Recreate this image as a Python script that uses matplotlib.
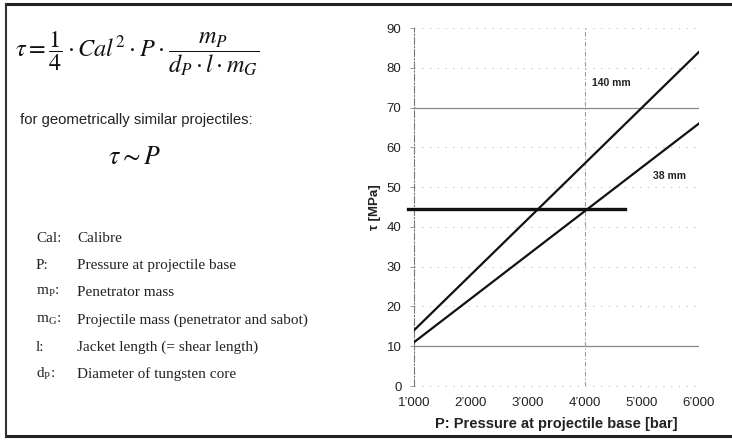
import matplotlib
matplotlib.use("Agg")
import matplotlib.pyplot as plt
import numpy as np

plt.rcParams['font.family'] = ['Liberation Sans', 'DejaVu Sans']
plt.rcParams['mathtext.fontset'] = 'stix'

# Data
pressure = [1000, 6000]
tau_140 = [14, 84]
tau_38 = [11, 66]
limit_x = [900, 4700]
limit_tau = [44.5, 44.5]
xticks = [1000, 2000, 3000, 4000, 5000, 6000]
xtick_labels = ["1’000", "2’000", "3’000", "4’000", "5’000", "6’000"]
yticks = [0, 10, 20, 30, 40, 50, 60, 70, 80, 90]
def_keys = ["Cal:", "P:", r"m$_\mathregular{P}$:", r"m$_\mathregular{G}$:", "l:", r"d$_\mathregular{P}$:"]
def_texts = ["Calibre", "Pressure at projectile base", "Penetrator mass",
             "Projectile mass (penetrator and sabot)", "Jacket length (= shear length)",
             "Diameter of tungsten core"]

W, H = 732, 440
fig = plt.figure(figsize=(W/100, H/100), dpi=100)

# outer frame
fig.add_artist(plt.Line2D([6/W, 1], [1-4/H, 1-4/H], color='#222222', lw=2.2, transform=fig.transFigure))
fig.add_artist(plt.Line2D([6/W, 1], [1-436/H, 1-436/H], color='#222222', lw=2.2, transform=fig.transFigure))
fig.add_artist(plt.Line2D([6/W, 6/W], [1-4/H, 1-436/H], color='#333333', lw=1.5, transform=fig.transFigure))

# left text
fig.text(15/W, 1-54/H,
         r"$\tau = \dfrac{1}{4}\cdot Cal^2\cdot P\cdot\dfrac{m_P}{d_P\cdot l\cdot m_G}$",
         fontsize=17.5, va='center', ha='left', color='#111111')
fig.text(20/W, 1-120/H, "for geometrically similar projectiles:", fontsize=10.7,
         family=['Liberation Sans', 'DejaVu Sans'], va='center', ha='left', color='#222222')
fig.text(108/W, 1-157/H, r"$\tau \sim P$", fontsize=18.5, va='center', ha='left', color='#111111')

rows_y = [238, 265, 292, 320, 347, 374]
for k, t, yy in zip(def_keys, def_texts, rows_y):
    fig.text(36/W, 1-yy/H, k, fontsize=11, family=['Liberation Serif', 'DejaVu Serif'],
             va='center', ha='left', color='#222222')
    fig.text(77/W, 1-yy/H, t, fontsize=11, family=['Liberation Serif', 'DejaVu Serif'],
             va='center', ha='left', color='#222222')

# chart
ax = fig.add_axes([414/W, 1-386/H, (699-414)/W, (386-28)/H])
ax.set_xlim(1000, 6000)
ax.set_ylim(0, 90)
for s in ['top', 'right', 'bottom']:
    ax.spines[s].set_visible(False)
ax.spines['left'].set_linestyle((0, (6, 2, 1, 2)))
ax.spines['left'].set_color('#777777')
ax.spines['left'].set_linewidth(0.8)

for yv in yticks[1:]:
    if yv in (10, 70):
        ax.axhline(yv, color='#888888', lw=0.9, zorder=1)
    else:
        ax.axhline(yv, color='#bbbbbb', lw=0.8, ls=(0, (1, 6)), zorder=1)
ax.axhline(0, color='#bbbbbb', lw=0.8, ls=(0, (1, 6)), zorder=1, clip_on=False)
ax.axvline(4000, color='#999999', lw=0.8, ls=(0, (4, 2, 1, 2)), zorder=1)
ax.axvline(6000, color='#bbbbbb', lw=0.8, ls=(0, (1, 5)), zorder=1)

ax.plot(pressure, tau_140, color='#111111', lw=1.6, zorder=3)
ax.plot(pressure, tau_38, color='#111111', lw=1.6, zorder=3)
ax.plot(limit_x, limit_tau, color='#111111', lw=2.4, zorder=3, clip_on=False)

ax.text(4470, 76.2, "140 mm", fontsize=7.5, fontweight='bold', ha='center', va='center', color='#222222')
ax.text(5490, 52.8, "38 mm", fontsize=7.5, fontweight='bold', ha='center', va='center', color='#222222')

ax.set_xticks(xticks)
ax.set_xticklabels(xtick_labels)
ax.set_yticks(yticks)
ax.tick_params(axis='x', length=0, pad=8, labelsize=9.5, colors='#222222')
ax.tick_params(axis='y', length=3, width=0.6, color='#888888', pad=6, labelsize=9.5, labelcolor='#222222')
ax.set_xlabel("P: Pressure at projectile base [bar]", fontsize=10.5, fontweight='bold', color='#222222', labelpad=6)
ax.set_ylabel("τ [MPa]", fontsize=9.5, fontweight='bold', color='#222222', labelpad=4)

fig.savefig("out.png", dpi=100)
